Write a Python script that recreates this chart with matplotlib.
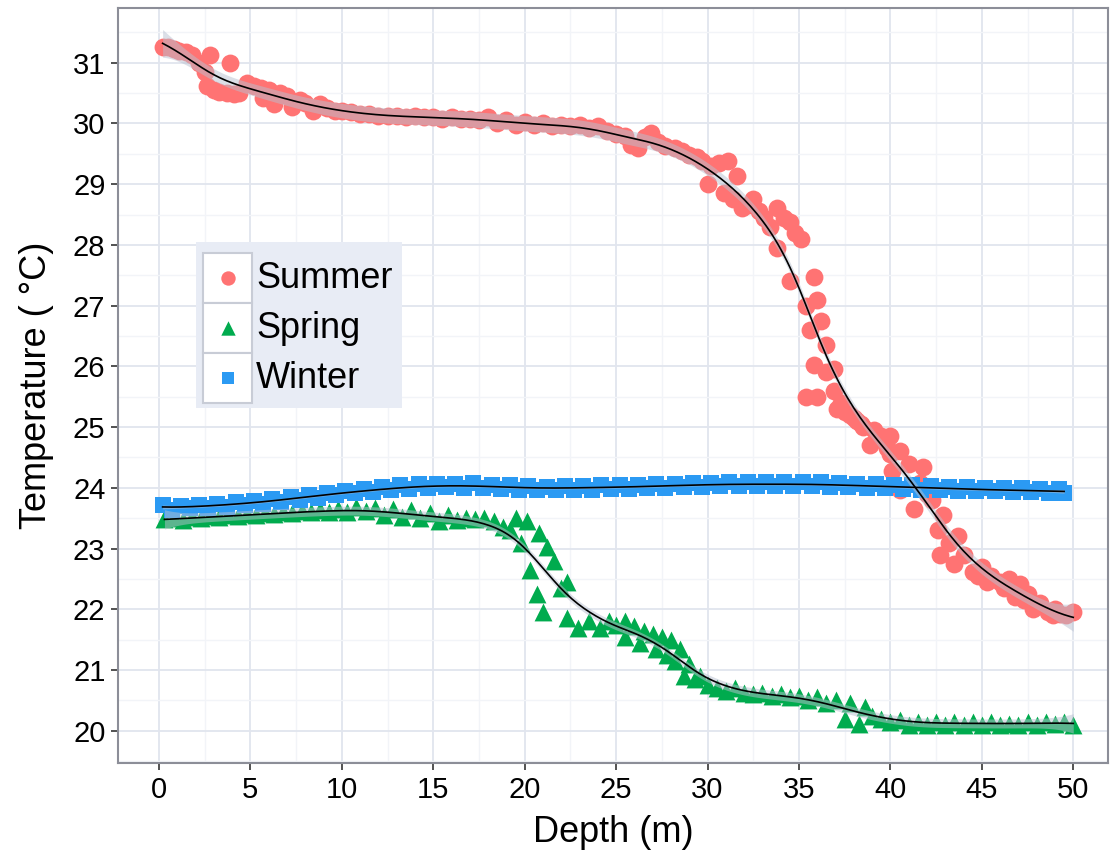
import numpy as np
import matplotlib
matplotlib.use('Agg')
import matplotlib.pyplot as plt
from matplotlib.patches import Rectangle
from matplotlib.ticker import MultipleLocator

plt.rcParams['font.family'] = ['Liberation Sans', 'DejaVu Sans']

# summer profile (depth m, temperature C)
summer_depth = [0.2, 0.5, 0.8, 1.1, 1.5, 1.8, 2.2, 2.5, 2.8, 2.6, 3.0, 3.3, 3.7, 3.9, 4.1,
                4.4, 4.8, 5.2, 5.6, 5.7, 6.0, 6.3, 6.6, 7.0, 7.3, 7.7, 8.0, 8.4, 8.8, 9.2,
                9.6, 10.0, 10.5, 11.0, 11.5, 12.0, 12.5, 13.0, 13.5, 14.0, 14.5, 15.0, 15.5,
                16.0, 16.5, 17.0, 17.5, 18.0, 18.5, 19.0, 19.5, 20.0, 20.5, 21.0, 21.5, 22.0,
                22.5, 23.0, 23.5, 24.0, 24.5, 25.0, 25.5, 25.8, 26.2, 26.6, 26.9, 27.3, 27.7,
                28.2, 28.6, 29.0, 29.4, 29.7, 30.0, 30.2, 30.6, 30.9, 31.1, 31.4, 31.6, 31.9,
                32.2, 32.5, 32.8, 33.1, 33.4, 33.8, 33.8, 34.2, 34.5, 34.5, 34.8, 35.1, 35.4,
                35.8, 35.6, 36.0, 36.2, 35.8, 35.4, 36.5, 36.5, 36.9, 36.9, 36.0, 37.1, 37.3,
                37.5, 37.8, 38.0, 38.2, 38.4, 38.5, 38.9, 39.1, 39.3, 39.5, 39.8, 40.0, 40.0,
                40.5, 40.1, 40.5, 41.0, 41.3, 41.6, 41.8, 42.0, 42.3, 42.6, 42.9, 42.7, 43.2,
                43.5, 43.7, 44.0, 44.5, 44.8, 45.0, 45.3, 45.5, 46.0, 46.2, 46.5, 46.8, 47.1,
                47.3, 47.5, 47.8, 48.0, 48.2, 48.6, 48.9, 49.0, 49.3, 49.6, 50.0]
summer_temp = [31.25, 31.25, 31.22, 31.2, 31.18, 31.12, 31.0, 30.85, 31.13, 30.62, 30.55, 30.52,
               30.5, 31.0, 30.48, 30.5, 30.67, 30.62, 30.58, 30.42, 30.55, 30.32, 30.5, 30.45,
               30.27, 30.38, 30.33, 30.2, 30.32, 30.25, 30.2, 30.2, 30.18, 30.15, 30.15, 30.13,
               30.12, 30.12, 30.1, 30.12, 30.1, 30.1, 30.08, 30.1, 30.07, 30.08, 30.05, 30.1,
               30.0, 30.05, 29.97, 30.02, 29.98, 30.0, 29.95, 29.98, 29.95, 29.97, 29.92, 29.95,
               29.88, 29.82, 29.8, 29.65, 29.6, 29.78, 29.85, 29.7, 29.62, 29.6, 29.55, 29.48,
               29.45, 29.38, 29.0, 29.3, 29.35, 28.85, 29.38, 28.75, 29.13, 28.6, 28.65, 28.75,
               28.55, 28.45, 28.3, 28.6, 27.95, 28.45, 28.38, 27.4, 28.2, 28.1, 27.0, 27.47,
               26.6, 27.1, 26.75, 26.03, 25.5, 26.35, 25.9, 25.95, 25.6, 25.5, 25.3, 25.4,
               25.25, 25.2, 25.15, 25.1, 25.05, 25.0, 24.7, 24.95, 24.8, 24.85, 24.65, 24.85,
               24.55, 24.6, 24.27, 23.97, 24.4, 23.65, 24.08, 24.35, 23.9, 23.8, 23.3, 23.55,
               22.9, 23.1, 22.75, 23.2, 22.9, 22.62, 22.55, 22.7, 22.45, 22.55, 22.45, 22.35,
               22.5, 22.2, 22.42, 22.15, 22.25, 22.0, 22.05, 22.1, 21.95, 21.9, 22.0, 21.92,
               21.9, 21.95]

# spring profile
spring_depth = [0.3, 0.8, 1.3, 1.8, 2.3, 2.8, 3.3, 3.8, 4.3, 4.8, 5.3, 5.8, 6.3, 6.8, 7.3,
                7.8, 8.3, 8.8, 9.3, 9.8, 10.3, 10.8, 11.3, 11.8, 12.3, 12.8, 13.3, 13.8, 14.3,
                14.8, 15.3, 15.8, 16.3, 16.8, 17.3, 17.8, 18.3, 18.8, 19.2, 19.5, 19.8, 20.1,
                20.3, 20.7, 20.8, 21.0, 21.2, 21.6, 22.0, 22.3, 22.3, 22.9, 23.5, 24.1, 24.6,
                25.0, 25.5, 25.5, 26.0, 26.3, 26.5, 27.0, 27.2, 27.5, 27.8, 28.0, 28.2, 28.5,
                28.7, 29.0, 29.3, 29.6, 30.0, 30.5, 31.0, 31.5, 32.0, 32.5, 33.0, 33.5, 34.0,
                34.5, 35.0, 35.5, 36.0, 36.5, 37.0, 37.5, 37.8, 38.3, 38.6, 39.0, 39.5, 40.0,
                40.5, 41.0, 41.5, 42.0, 42.5, 43.0, 43.5, 44.0, 44.5, 45.0, 45.5, 46.0, 46.5,
                47.0, 47.5, 48.0, 48.5, 49.0, 49.5, 50.0]
spring_temp = [23.48, 23.5, 23.47, 23.52, 23.5, 23.53, 23.52, 23.55, 23.53, 23.57, 23.55, 23.58,
               23.57, 23.6, 23.58, 23.62, 23.6, 23.63, 23.6, 23.65, 23.6, 23.68, 23.62, 23.67,
               23.55, 23.65, 23.52, 23.63, 23.5, 23.58, 23.45, 23.55, 23.47, 23.5, 23.48, 23.5,
               23.45, 23.35, 23.3, 23.5, 23.1, 23.45, 22.65, 22.25, 23.25, 21.95, 23.03, 22.8,
               22.35, 22.45, 21.85, 21.7, 21.8, 21.7, 21.8, 21.75, 21.8, 21.55, 21.72, 21.45,
               21.65, 21.6, 21.35, 21.55, 21.25, 21.5, 21.15, 21.35, 20.9, 21.1, 20.85, 20.9,
               20.75, 20.7, 20.65, 20.7, 20.62, 20.6, 20.62, 20.58, 20.6, 20.55, 20.58, 20.5,
               20.55, 20.45, 20.5, 20.2, 20.45, 20.12, 20.4, 20.25, 20.2, 20.15, 20.18, 20.1,
               20.15, 20.1, 20.15, 20.1, 20.15, 20.1, 20.14, 20.1, 20.15, 20.1, 20.12, 20.1,
               20.15, 20.1, 20.15, 20.12, 20.15, 20.1]

# winter profile
winter_depth = [0.2, 0.7, 1.2, 1.7, 2.2, 2.7, 3.2, 3.7, 4.2, 4.7, 5.2, 5.7, 6.2, 6.7, 7.2,
                7.7, 8.2, 8.7, 9.2, 9.7, 10.2, 10.7, 11.2, 11.7, 12.2, 12.7, 13.2, 13.7, 14.2,
                14.7, 15.2, 15.7, 16.2, 16.7, 17.2, 17.7, 18.2, 18.7, 19.2, 19.7, 20.2, 20.7,
                21.2, 21.7, 22.2, 22.7, 23.2, 23.7, 24.2, 24.7, 25.2, 25.7, 26.2, 26.7, 27.2,
                27.7, 28.2, 28.7, 29.2, 29.7, 30.2, 30.7, 31.2, 31.7, 32.2, 32.7, 33.2, 33.7,
                34.2, 34.7, 35.2, 35.7, 36.2, 36.7, 37.2, 37.7, 38.2, 38.7, 39.2, 39.7, 40.2,
                40.7, 41.2, 41.7, 42.2, 42.7, 43.2, 43.7, 44.2, 44.7, 45.2, 45.7, 46.2, 46.7,
                47.2, 47.7, 48.2, 48.7, 49.2, 49.5]
winter_temp = [23.72, 23.64, 23.70, 23.66, 23.72, 23.67, 23.74, 23.69, 23.76, 23.71, 23.78, 23.74,
               23.81, 23.77, 23.85, 23.80, 23.89, 23.84, 23.92, 23.88, 23.95, 23.91, 23.98, 23.93,
               24.01, 23.96, 24.04, 23.98, 24.06, 24.00, 24.07, 24.01, 24.07, 24.00, 24.08, 24.00,
               24.05, 23.98, 24.04, 23.97, 24.03, 23.96, 24.02, 23.96, 24.03, 23.97, 24.03, 23.97,
               24.04, 23.98, 24.04, 23.98, 24.05, 23.99, 24.06, 24.00, 24.07, 24.01, 24.08, 24.02,
               24.08, 24.03, 24.09, 24.03, 24.09, 24.03, 24.09, 24.03, 24.09, 24.03, 24.09, 24.03,
               24.09, 24.02, 24.08, 24.01, 24.07, 24.00, 24.06, 23.99, 24.05, 23.98, 24.04, 23.97,
               24.03, 23.96, 24.02, 23.95, 24.01, 23.94, 24.00, 23.94, 23.99, 23.93, 23.99, 23.93,
               23.98, 23.92, 23.98, 23.92]

labels = ['Summer', 'Spring', 'Winter']
colors = ['#FF7373', '#00AB4E', '#2B9AF3']
markers = ['o', '^', 's']
sizes = [165, 165, 130]


# local linear smoother, like geom_smooth
def smooth(x, y, h=1.4, n=300):
    x = np.asarray(x, float)
    y = np.asarray(y, float)
    g = np.linspace(x.min(), x.max(), n)

    def weights(g0):
        w = np.exp(-0.5 * ((x - g0) / h) ** 2)
        X = np.column_stack([np.ones_like(x), x - g0])
        A = np.linalg.inv(X.T @ (w[:, None] * X))
        return (A @ (X * w[:, None]).T)[0]

    fitted = np.array([weights(xi) @ y for xi in x])
    sigma = np.sqrt(np.mean((y - fitted) ** 2))
    fit, se = [], []
    for g0 in g:
        l = weights(g0)
        fit.append(l @ y)
        se.append(sigma * np.sqrt(l @ l))
    return g, np.array(fit), np.array(se)


fig = plt.figure(figsize=(11.1, 8.55), dpi=100)
ax = fig.add_axes([118 / 1110, 1 - 763 / 855, 990 / 1110, 755 / 855])

data = [(summer_depth, summer_temp), (spring_depth, spring_temp), (winter_depth, winter_temp)]
for (d, t), c, m, s in zip(data, colors, markers, sizes):
    ax.scatter(d, t, s=s, c=c, marker=m, linewidths=0, zorder=2)
for d, t in data:
    g, f, se = smooth(d, t)
    ax.fill_between(g, f - 1.5 * se, f + 1.5 * se, color='#B8C0D0', alpha=0.5,
                    linewidth=0, zorder=3)
    ax.plot(g, f, color='black', lw=1.2, zorder=4)

ax.set_xlim(-2.24, 51.9)
ax.set_ylim(19.47, 31.9)
ax.xaxis.set_major_locator(MultipleLocator(5))
ax.xaxis.set_minor_locator(MultipleLocator(2.5))
ax.yaxis.set_major_locator(MultipleLocator(1))
ax.yaxis.set_minor_locator(MultipleLocator(0.5))
ax.grid(which='major', color='#E1E5EE', lw=1.3, zorder=0)
ax.grid(which='minor', color='#F2F4F8', lw=1.0, zorder=0)
ax.set_axisbelow(True)
ax.tick_params(which='major', direction='out', length=5, width=1.2, color='#333333',
               labelsize=21, pad=4)
ax.tick_params(which='minor', length=0)
for sp in ax.spines.values():
    sp.set_color('#8C8E98')
    sp.set_linewidth(1.5)

ax.set_xlabel('Depth (m)', fontsize=26, labelpad=8)
ax.set_ylabel('Temperature ( \u00b0C)', fontsize=26, labelpad=14)

# legend drawn like ggplot's, in its own little axes
lg = fig.add_axes([196 / 1110, 1 - 408 / 855, 206 / 1110, 166 / 855])
lg.set_xlim(0, 206)
lg.set_ylim(0, 166)
lg.set_facecolor('#E8ECF5')
lg.set_xticks([])
lg.set_yticks([])
for sp in lg.spines.values():
    sp.set_visible(False)
for i, (lab, c, m, s) in enumerate(zip(labels, colors, markers, sizes)):
    y0 = 105 - 50 * i
    lg.add_patch(Rectangle((7, y0), 49, 50, facecolor='white', edgecolor='#C8CCD6', lw=1.5))
    lg.scatter([31.5], [y0 + 25], s=s * 0.65, c=c, marker=m, linewidths=0)
    lg.text(60, y0 + 24, lab, fontsize=26, va='center', ha='left')

fig.savefig('out.png', dpi=100)
